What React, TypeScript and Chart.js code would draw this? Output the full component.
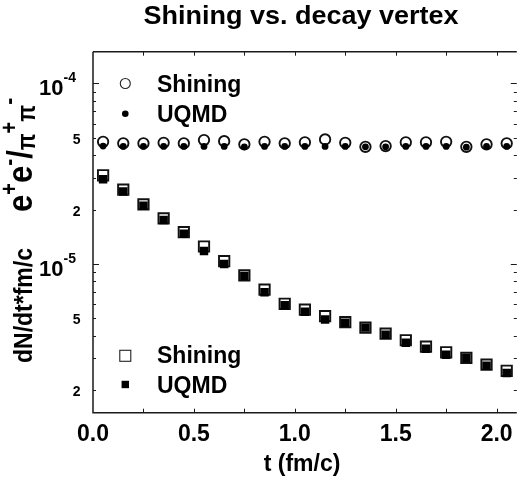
import { useEffect, useRef } from 'react';
import { Chart, registerables } from 'chart.js';

Chart.register(...registerables);

const FONT = '"Liberation Sans", Arial, Helvetica, sans-serif';

const times = [0.05, 0.15, 0.25, 0.35, 0.45, 0.55, 0.65, 0.75, 0.85, 0.95, 1.05, 1.15, 1.25, 1.35, 1.45, 1.55, 1.65, 1.75, 1.85, 1.95, 2.05];

// e+e-/pi+pi- ratio (circles)
const shiningRatio = [4.75e-5, 4.66e-5, 4.66e-5, 4.69e-5, 4.66e-5, 4.86e-5, 4.79e-5, 4.6e-5, 4.75e-5, 4.66e-5, 4.72e-5, 4.9e-5, 4.69e-5, 4.46e-5, 4.5e-5, 4.72e-5, 4.72e-5, 4.75e-5, 4.46e-5, 4.6e-5, 4.66e-5];
const uqmdRatio = [4.5e-5, 4.48e-5, 4.48e-5, 4.48e-5, 4.48e-5, 4.48e-5, 4.48e-5, 4.46e-5, 4.48e-5, 4.48e-5, 4.48e-5, 4.48e-5, 4.48e-5, 4.46e-5, 4.46e-5, 4.48e-5, 4.48e-5, 4.48e-5, 4.44e-5, 4.48e-5, 4.48e-5];

// dN/dt * fm/c (squares)
const shiningRate = [3.1e-5, 2.58e-5, 2.14e-5, 1.79e-5, 1.5e-5, 1.25e-5, 1.036e-5, 8.64e-6, 7.21e-6, 6.02e-6, 5.58e-6, 5.14e-6, 4.76e-6, 4.44e-6, 4.11e-6, 3.78e-6, 3.48e-6, 3.24e-6, 3.02e-6, 2.77e-6, 2.56e-6];
const uqmdRate = [2.95e-5, 2.52e-5, 2.1e-5, 1.75e-5, 1.47e-5, 1.18e-5, 1.0e-5, 8.59e-6, 6.98e-6, 5.91e-6, 5.43e-6, 4.93e-6, 4.72e-6, 4.44e-6, 4.05e-6, 3.66e-6, 3.39e-6, 3.14e-6, 3.01e-6, 2.73e-6, 2.49e-6];

const xMinorTicks = [0.25, 0.5, 0.75, 1.0, 1.25, 1.5, 1.75, 2.0];
const yDecadeLabels = [
  { value: 1e-4, exp: '-4' },
  { value: 1e-5, exp: '-5' },
];
const yPlainLabels = [
  { value: 5e-5, text: '5' },
  { value: 2e-5, text: '2' },
  { value: 5e-6, text: '5' },
  { value: 2e-6, text: '2' },
];

const pts = (ys: number[]) => times.map((t, i) => ({ x: t, y: ys[i] }));

const decor = {
  id: 'decor',
  afterDraw(chart: any) {
    const ctx: CanvasRenderingContext2D = chart.ctx;
    const { left, right, top, bottom } = chart.chartArea;
    const xs = chart.scales.x;
    const ys = chart.scales.y;
    ctx.save();
    ctx.strokeStyle = '#1a1a1a';
    ctx.lineWidth = 1.5;
    ctx.beginPath();
    ctx.moveTo(left, top);
    ctx.lineTo(right, top);
    ctx.moveTo(left, top);
    ctx.lineTo(left, bottom);
    ctx.lineTo(right, bottom);
    ctx.stroke();

    ctx.lineWidth = 1;
    ctx.beginPath();
    for (const v of xMinorTicks) {
      const px = Math.round(xs.getPixelForValue(v)) + 0.5;
      ctx.moveTo(px, bottom);
      ctx.lineTo(px, bottom - 4);
      ctx.moveTo(px, top);
      ctx.lineTo(px, top + 4);
    }
    for (let d = -6; d <= -4; d++) {
      for (let m = 1; m <= 9; m++) {
        const v = m * Math.pow(10, d);
        if (v < ys.min || v > ys.max) continue;
        const py = Math.round(ys.getPixelForValue(v)) + 0.5;
        const len = m === 1 ? 6 : 3;
        ctx.moveTo(left, py);
        ctx.lineTo(left + len, py);
        ctx.moveTo(right, py);
        ctx.lineTo(right - len, py);
      }
    }
    ctx.stroke();

    ctx.fillStyle = '#000';
    // y tick labels
    ctx.textBaseline = 'alphabetic';
    for (const d of yDecadeLabels) {
      const py = ys.getPixelForValue(d.value);
      ctx.font = `bold 22px ${FONT}`;
      ctx.textAlign = 'right';
      ctx.fillText('10', 63.5, py + 11.7);
      ctx.font = `bold 14px ${FONT}`;
      ctx.textAlign = 'left';
      ctx.fillText(d.exp, 63.5, py - 1.3);
    }
    ctx.textAlign = 'right';
    ctx.font = `bold 14px ${FONT}`;
    for (const d of yPlainLabels) {
      const py = ys.getPixelForValue(d.value);
      ctx.fillText(d.text, 80.5, py + 6);
    }

    // title
    ctx.save();
    ctx.font = `bold 25px ${FONT}`;
    ctx.textAlign = 'center';
    ctx.translate(301, 24);
    ctx.scale(1.08, 1);
    ctx.fillText('Shining vs. decay vertex', 0, 0);
    ctx.restore();

    // x title
    ctx.font = `bold 23px ${FONT}`;
    ctx.textAlign = 'center';
    ctx.fillText('t (fm/c)', 302, 471);

    // y title
    ctx.save();
    ctx.translate(32, 363);
    ctx.rotate(-Math.PI / 2);
    ctx.scale(1, 1.15);
    ctx.textAlign = 'left';
    let x = 0;
    const seg = (txt: string, size: number, dy: number) => {
      ctx.font = `bold ${size}px ${FONT}`;
      ctx.fillText(txt, x, dy);
      x += ctx.measureText(txt).width;
    };
    seg('dN/dt*fm/c', 23, 0);
    x += 36;
    seg('e', 31, 0);
    seg('+', 20, -13);
    seg('e', 31, 0);
    seg('-', 21, -13);
    seg('/', 31, 0);
    seg('\u03c0', 22, 3);
    seg('+', 20, -13);
    seg('\u03c0', 22, 3);
    seg('-', 21, -13);
    ctx.restore();

    // legends
    ctx.textAlign = 'left';
    ctx.font = `bold 23px ${FONT}`;
    const lx = xs.getPixelForValue(0.16);
    const tx = 157;
    const r1 = ys.getPixelForValue(1e-4);
    const r2 = ys.getPixelForValue(6.8e-5);
    ctx.lineWidth = 1.1;
    ctx.strokeStyle = '#222';
    ctx.beginPath();
    ctx.arc(lx, r1, 5, 0, Math.PI * 2);
    ctx.stroke();
    ctx.beginPath();
    ctx.arc(lx, r2, 3.3, 0, Math.PI * 2);
    ctx.fill();
    ctx.fillText('Shining', tx, r1 + 8.4);
    ctx.fillText('UQMD', tx, r2 + 8.4);

    const s1 = ys.getPixelForValue(3.1e-6);
    const s2 = ys.getPixelForValue(2.15e-6);
    ctx.strokeRect(lx - 5.5, s1 - 5.5, 11, 11);
    ctx.fillRect(lx - 3.7, s2 - 3.7, 7.4, 7.4);
    ctx.fillText('Shining', tx, s1 + 7.5);
    ctx.fillText('UQMD', tx, s2 + 8.3);
    ctx.restore();
  },
};

export default function App() {
  const ref = useRef<HTMLCanvasElement | null>(null);
  useEffect(() => {
    document.body.style.margin = '0';
    const canvas = ref.current!;
    const chart = new Chart(canvas, {
      type: 'scatter',
      data: {
        datasets: [
          { label: 'UQMD ratio', data: pts(uqmdRatio), pointStyle: 'circle', pointRadius: 3.4, backgroundColor: '#000', borderWidth: 0, order: 0 },
          { label: 'UQMD rate', data: pts(uqmdRate), pointStyle: 'rect', pointRadius: 6, backgroundColor: '#000', borderWidth: 0, order: 0 },
          { label: 'Shining ratio', data: pts(shiningRatio), pointStyle: 'circle', pointRadius: 5.2, backgroundColor: 'rgba(255,255,255,0)', borderColor: '#111', borderWidth: 1.9, order: 1 },
          { label: 'Shining rate', data: pts(shiningRate), pointStyle: 'rect', pointRadius: 7.3, backgroundColor: 'rgba(255,255,255,0)', borderColor: '#111', borderWidth: 1.9, order: 1 },
        ],
      },
      options: {
        responsive: false,
        animation: false,
        devicePixelRatio: 1,
        events: [],
        layout: { padding: { top: 51.7, left: 0, right: 0, bottom: 0 } },
        plugins: { legend: { display: false }, title: { display: false }, tooltip: { enabled: false } },
        scales: {
          x: {
            type: 'linear',
            position: 'bottom',
            min: 0,
            max: 2.1,
            grid: { display: false, drawTicks: false },
            border: { display: false },
            ticks: {
              stepSize: 0.5,
              includeBounds: false,
              autoSkip: false,
              maxRotation: 0,
              padding: 8,
              color: '#000',
              font: { family: FONT, size: 23, weight: 'bold' },
              callback: (v: any) => Number(v).toFixed(1),
            },
            afterFit: (s: any) => { s.height = 68.3; },
          },
          y: {
            type: 'logarithmic',
            min: 1.5e-6,
            max: 1.5e-4,
            grid: { display: false, drawTicks: false },
            border: { display: false },
            ticks: { display: false },
            afterFit: (s: any) => { s.width = 93; },
          },
        },
      },
      plugins: [decor],
    } as any);
    return () => chart.destroy();
  }, []);
  return (
    <div style={{ position: 'absolute', left: 0, top: 0, width: 526, height: 481, background: '#fff' }}>
      <canvas ref={ref} width={526} height={481} />
    </div>
  );
}
